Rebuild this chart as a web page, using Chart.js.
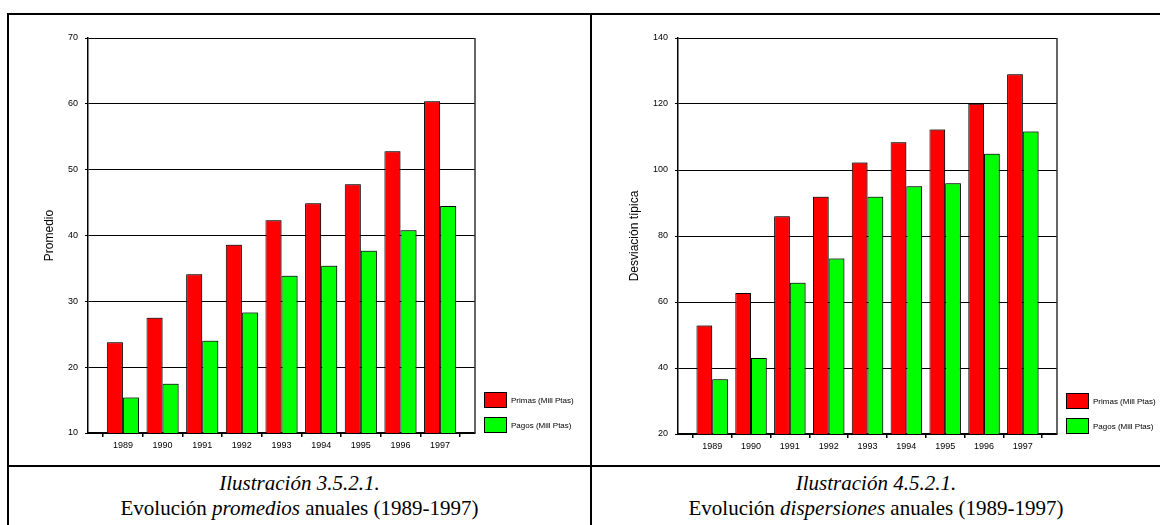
<!DOCTYPE html>
<html>
<head>
<meta charset="utf-8">
<script src="https://cdn.jsdelivr.net/npm/chart.js@4/dist/chart.umd.min.js"></script>
<style>
  body { margin: 0; background: #fff; width: 1160px; height: 525px; overflow: hidden; position: relative; }
  .linea { position: absolute; background: #000; }
  .grafico { position: absolute; }
  .pie { position: absolute; top: 471px; text-align: center; font-family: "Liberation Serif", "Times New Roman", serif; font-size: 21px; line-height: 25px; color: #000; }
</style>
</head>
<body>
<div class="linea" style="left:7px;top:13px;width:1153px;height:2px"></div>
<div class="linea" style="left:7px;top:13px;width:2px;height:512px"></div>
<div class="linea" style="left:590px;top:13px;width:2px;height:512px"></div>
<div class="linea" style="left:7px;top:465px;width:1153px;height:2px"></div>

<div class="grafico" style="left:9px;top:15px;width:581px;height:450px"><canvas id="promedios"></canvas></div>
<div class="grafico" style="left:592px;top:15px;width:568px;height:450px"><canvas id="dispersiones"></canvas></div>

<div class="pie" style="left:9px;width:581px"><i>Ilustración 3.5.2.1.</i><br>Evolución <i>promedios</i> anuales (1989-1997)</div>
<div class="pie" style="left:592px;width:568px"><i>Ilustración 4.5.2.1.</i><br>Evolución <i>dispersiones</i> anuales (1989-1997)</div>

<script>
var anios = [1989, 1990, 1991, 1992, 1993, 1994, 1995, 1996, 1997];
var series = ["Primas (Mill Ptas)", "Pagos (Mill Ptas)"];

var primasPromedio = [23.8, 27.5, 34.1, 38.6, 42.3, 44.9, 47.8, 52.8, 60.4];
var pagosPromedio  = [15.4, 17.5, 24.0, 28.3, 33.9, 35.4, 37.7, 40.8, 44.5];

var primasDesviacion = [52.9, 62.7, 86.0, 91.9, 102.3, 108.4, 112.3, 120.1, 129.0];
var pagosDesviacion  = [36.6, 43.0, 65.8, 73.2, 91.9, 95.1, 96.0, 104.9, 111.7];

Chart.defaults.font.family = '"Liberation Sans", Arial, sans-serif';
Chart.defaults.color = "#000";

// leyenda abajo a la derecha del area de dibujo
var leyenda = {
    id: "leyenda",
    afterDraw: function(chart){
        var ctx = chart.ctx, area = chart.chartArea, ds = chart.data.datasets;
        ctx.save();
        ctx.font = '8px "Liberation Sans", Arial, sans-serif';
        ctx.textBaseline = "middle";
        for(var i = 0; i < ds.length; i++){
            var x = area.right + 9;
            var y = area.bottom - (ds.length - i) * 25 + 9;
            ctx.fillStyle = ds[i].backgroundColor;
            ctx.fillRect(x, y, 23, 16);
            ctx.strokeStyle = "#000";
            ctx.lineWidth = 1;
            ctx.strokeRect(x + 0.5, y + 0.5, 22, 15);
            ctx.fillStyle = "#000";
            ctx.fillText(ds[i].label, x + 27, y + 9);
        }
        ctx.restore();
    }
};

// borde derecho del marco
var marco = {
    id: "marco",
    afterDraw: function(chart){
        var ctx = chart.ctx, area = chart.chartArea;
        ctx.save();
        ctx.strokeStyle = "#333";
        ctx.lineWidth = 1.5;
        ctx.beginPath();
        ctx.moveTo(area.right, area.top);
        ctx.lineTo(area.right, area.bottom);
        ctx.stroke();
        ctx.restore();
    }
};

// sombra gris suave a la derecha de las barras
var sombra = {
    id: "sombra",
    beforeDatasetsDraw: function(chart){
        var ctx = chart.ctx;
        ctx.save();
        ctx.shadowColor = "rgba(0,0,0,0.35)";
        ctx.shadowOffsetX = 1.5;
        ctx.shadowOffsetY = -1;
        ctx.shadowBlur = 0;
    },
    afterDatasetsDraw: function(chart){
        chart.ctx.restore();
    }
};

function grafico(id, primas, pagos, titulo, min, max, paso, anchoEje, padTitulo, padDerecha, altoEjeX){
    return new Chart(document.getElementById(id), {
        type: "bar",
        data: {
            labels: anios,
            datasets: [
                { label: series[0], data: primas, backgroundColor: "#ff0000", borderColor: "#000", borderWidth: 1 },
                { label: series[1], data: pagos, backgroundColor: "#00ff00", borderColor: "#000", borderWidth: 1 }
            ]
        },
        options: {
            responsive: true,
            maintainAspectRatio: false,
            animation: false,
            categoryPercentage: 0.81,
            barPercentage: 1,
            layout: { padding: { top: 23, right: padDerecha, bottom: 0, left: 0 } },
            plugins: { legend: { display: false }, tooltip: { enabled: false } },
            scales: {
                x: {
                    type: "linear",
                    offset: false,
                    min: 1988.12,
                    max: 1997.88,
                    grid: { drawOnChartArea: false, color: "#000", tickLength: 4, lineWidth: 1.5 },
                    border: { color: "#000", width: 2 },
                    ticks: {
                        stepSize: 1, includeBounds: false, autoSkip: false, maxRotation: 0,
                        padding: 3, font: { size: 9 },
                        callback: function(v){ return String(v); }
                    },
                    afterFit: function(s){ s.height = altoEjeX; }
                },
                y: {
                    min: min,
                    max: max,
                    grid: { color: "#000", lineWidth: 1, tickLength: 3 },
                    border: { color: "#000", width: 1.5 },
                    ticks: { stepSize: paso, padding: 7, font: { size: 9 } },
                    title: { display: true, text: titulo, font: { size: 12 }, padding: { top: padTitulo, bottom: 0 } },
                    afterFit: function(s){ s.width = anchoEje; }
                }
            }
        },
        plugins: [sombra, leyenda, marco]
    });
}

grafico("promedios", primasPromedio, pagosPromedio, "Promedio", 10, 70, 10, 79, 33, 115, 32);
grafico("dispersiones", primasDesviacion, pagosDesviacion, "Desviación típica", 20, 140, 20, 86, 35, 103, 31);
</script>
</body>
</html>
